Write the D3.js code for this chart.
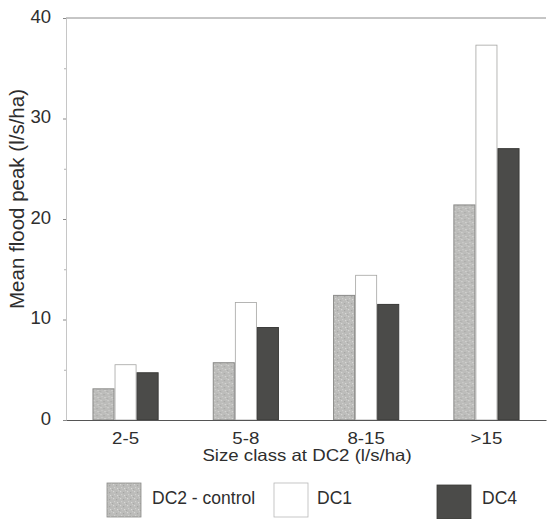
<!DOCTYPE html>
<html>
<head>
<meta charset="utf-8">
<script src="https://cdn.jsdelivr.net/npm/d3@7"></script>
<style>
  html, body { margin: 0; padding: 0; background: #fff; }
  svg { display: block; font-family: "Liberation Sans", Arial, sans-serif; }
</style>
</head>
<body>
<svg id="chart" width="547" height="519"></svg>
<script>
// Size classes at DC2 and the mean flood peak (l/s/ha) of each catchment
const categories = ["2-5", "5-8", "8-15", ">15"];
const seriesNames = ["DC2 - control", "DC1", "DC4"];
const dc2Control = [3.1, 5.7, 12.4, 21.4];
const dc1 = [5.5, 11.7, 14.4, 37.3];
const dc4 = [4.7, 9.2, 11.5, 27.0];
const yTicks = [0, 10, 20, 30, 40];
const yMinorTicks = [5, 15, 25, 35];

const series = [dc2Control, dc1, dc4];

const svg = d3.select("#chart");
const plot = { left: 66, right: 546, top: 18, bottom: 420 };
const textColor = "#2e2e2e";

// Speckled grey fill used for the control series
const defs = svg.append("defs");
const pat = defs.append("pattern")
  .attr("id", "speckle")
  .attr("patternUnits", "userSpaceOnUse")
  .attr("width", 7).attr("height", 7);
pat.append("rect").attr("width", 7).attr("height", 7).attr("fill", "#bcbcba");
const specks = [[1, 1, "#d8d8d6"], [4, 2, "#a6a6a4"], [2, 4, "#d0d0ce"], [5, 5, "#dadad8"], [0, 6, "#aaaaa8"], [6, 0, "#cbcbc9"], [3, 6, "#c2c2c0"]];
specks.forEach(([x, y, c]) => pat.append("rect").attr("x", x).attr("y", y).attr("width", 1.2).attr("height", 1.2).attr("fill", c));

const fills = ["url(#speckle)", "#ffffff", "#4b4b49"];
const strokes = ["#8a8a88", "#a4a4a2", "#3a3a38"];

const x0 = d3.scaleBand().domain(categories).range([plot.left, plot.right]).paddingInner(0.45).paddingOuter(0.22);
const x1 = d3.scaleBand().domain(d3.range(series.length)).range([0, x0.bandwidth()]).padding(0);
const y = d3.scaleLinear().domain([0, 40]).range([plot.bottom, plot.top]);

// Top frame line
svg.append("line")
  .attr("x1", plot.left).attr("x2", plot.right)
  .attr("y1", plot.top).attr("y2", plot.top)
  .attr("stroke", "#8c8c8c").attr("stroke-width", 1);

// Bars
const groups = svg.append("g").selectAll("g")
  .data(categories)
  .join("g")
  .attr("transform", d => `translate(${x0(d)},0)`);

groups.selectAll("rect")
  .data((c, i) => series.map((s, k) => ({ k, v: s[i] })))
  .join("rect")
  .attr("x", d => x1(d.k) + 0.5)
  .attr("width", x1.bandwidth() - 1)
  .attr("y", d => y(d.v))
  .attr("height", d => y(0) - y(d.v))
  .attr("fill", d => fills[d.k])
  .attr("stroke", d => strokes[d.k])
  .attr("stroke-width", d => d.k === 1 ? 0.8 : 1);

// Y axis
const yAxis = svg.append("g")
  .attr("transform", `translate(${plot.left},0)`)
  .call(d3.axisLeft(y).tickValues(yTicks).tickSize(3).tickPadding(12).tickFormat(d3.format("d")));
yAxis.select(".domain").attr("stroke", "#b8b8b8").attr("stroke-width", 0.8);
yAxis.selectAll(".tick line").attr("stroke", "#888");
yAxis.selectAll("text")
  .attr("font-size", 18.5).attr("fill", textColor)
  .attr("dy", "0.22em");

svg.append("g")
  .attr("transform", `translate(${plot.left},0)`)
  .call(d3.axisLeft(y).tickValues(yMinorTicks).tickSize(2).tickFormat(""))
  .call(g => g.select(".domain").remove())
  .selectAll(".tick line").attr("stroke", "#b0b0b0");

// X axis
const xAxis = svg.append("g")
  .attr("transform", `translate(0,${plot.bottom})`)
  .call(d3.axisBottom(x0).tickSize(0).tickPadding(12).tickSizeOuter(0));
xAxis.select(".domain").attr("stroke", "#555").attr("stroke-width", 1);
xAxis.selectAll("text")
  .attr("font-size", 17).attr("fill", textColor)
  .attr("transform", "scale(1.1,1)");

// Axis titles
svg.append("text")
  .attr("transform", "translate(307,461) scale(1.13,1)")
  .attr("text-anchor", "middle")
  .attr("font-size", 16.5).attr("fill", textColor)
  .text("Size class at DC2 (l/s/ha)");

svg.append("text")
  .attr("transform", "translate(24,199) rotate(-90)")
  .attr("text-anchor", "middle")
  .attr("font-size", 20.5).attr("fill", textColor)
  .text("Mean flood peak (l/s/ha)");

// Legend
const legendItems = [
  { x: 107, y: 483, tx: 152 },
  { x: 274, y: 483, tx: 317 },
  { x: 437, y: 485, tx: 482 }
];
const legend = svg.append("g").selectAll("g")
  .data(seriesNames)
  .join("g");
legend.append("rect")
  .attr("x", (d, i) => legendItems[i].x)
  .attr("y", (d, i) => legendItems[i].y)
  .attr("width", 34).attr("height", 34)
  .attr("fill", (d, i) => fills[i])
  .attr("stroke", (d, i) => i === 1 ? "#b8b8b8" : strokes[i])
  .attr("stroke-width", 0.8);
legend.append("text")
  .attr("x", (d, i) => legendItems[i].tx)
  .attr("y", 504)
  .attr("font-size", 17.5).attr("fill", textColor)
  .text(d => d);
</script>
</body>
</html>
